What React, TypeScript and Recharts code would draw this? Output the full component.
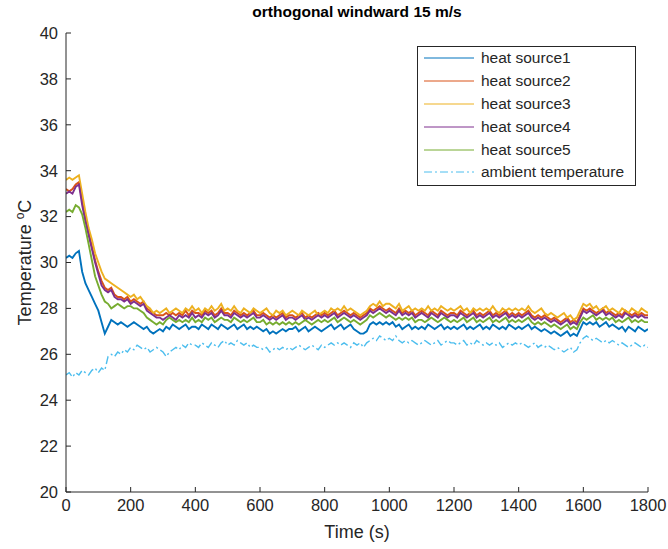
import React from "react";
import { LineChart, Line, XAxis, YAxis, Legend } from "recharts";

const TIME_STEP_S = 10;

const chartTitle = "orthogonal windward 15 m/s";
const xTicks = [0, 200, 400, 600, 800, 1000, 1200, 1400, 1600, 1800];
const yTicks = [20, 22, 24, 26, 28, 30, 32, 34, 36, 38, 40];

const heatSource1 = [
  30.2, 30.3, 30.2, 30.4, 30.5, 29.6, 29.1, 28.8, 28.5, 28.2,
  27.9, 27.4, 26.9, 27.2, 27.5, 27.4, 27.3, 27.4, 27.3, 27.2,
  27.3, 27.4, 27.3, 27.2, 27.1, 27.2, 27.0, 26.9, 27.0, 27.1,
  27.0, 27.2, 27.1, 27.3, 27.2, 27.1, 27.2, 27.3, 27.1, 27.2,
  27.2, 27.1, 27.3, 27.2, 27.1, 27.3, 27.2, 27.1, 27.3, 27.2,
  27.1, 27.2, 27.3, 27.1, 27.2, 27.3, 27.1, 27.2, 27.1, 27.2,
  27.1, 27.0, 27.1, 26.9, 27.0, 26.9, 27.0, 27.1, 27.0, 27.1,
  27.1, 27.2, 27.0, 27.1, 27.2, 27.0, 27.1, 27.2, 27.1, 27.0,
  27.1, 27.2, 27.3, 27.1, 27.2, 27.3, 27.1, 27.2, 27.3, 27.1,
  27.0, 26.9, 26.9, 27.0, 27.3, 27.4, 27.3, 27.4, 27.3, 27.4,
  27.3, 27.4, 27.2, 27.3, 27.1, 27.2, 27.3, 27.1, 27.2, 27.1,
  27.2, 27.1, 27.3, 27.2, 27.1, 27.2, 27.3, 27.1, 27.2, 27.1,
  27.2, 27.1, 27.2, 27.3, 27.1, 27.2, 27.1, 27.2, 27.3, 27.1,
  27.2, 27.1, 27.3, 27.2, 27.1, 27.2, 27.1, 27.3, 27.2, 27.1,
  27.2, 27.1, 27.2, 27.3, 27.1, 27.2, 27.1, 27.0, 27.1, 27.0,
  26.9, 27.0, 26.9, 26.8, 26.9, 27.0, 26.8, 26.9, 26.8, 27.1,
  27.4, 27.3, 27.4, 27.3, 27.4, 27.2, 27.3, 27.4, 27.2, 27.3,
  27.2, 27.1, 27.2, 27.0, 27.2, 27.1, 27.0, 27.2, 27.1, 27.0,
  27.1,
];

const heatSource2 = [
  33.2, 33.1, 33.2, 33.4, 33.5, 32.7, 31.9, 31.3, 30.7, 30.1,
  29.6, 29.2, 28.9, 28.8, 28.9, 28.6, 28.5, 28.5, 28.4, 28.5,
  28.3, 28.4, 28.3, 28.2, 28.3, 28.0, 27.9, 27.8, 27.7, 27.7,
  27.7, 27.8, 27.7, 27.8, 27.7, 27.8, 27.7, 27.9, 27.7, 27.9,
  27.8, 27.8, 27.7, 27.9, 27.8, 27.9, 27.7, 27.8, 28.0, 27.8,
  27.8, 27.7, 27.9, 27.8, 27.7, 27.8, 27.7, 27.8, 27.9, 27.7,
  27.7, 27.8, 27.7, 27.6, 27.7, 27.6, 27.7, 27.8, 27.6, 27.7,
  27.7, 27.6, 27.7, 27.8, 27.6, 27.7, 27.6, 27.7, 27.8, 27.7,
  27.8, 27.7, 27.8, 27.9, 27.7, 27.8, 27.9, 27.8, 27.7, 27.8,
  27.7, 27.6, 27.7, 27.8, 28.0, 27.9, 28.0, 28.1, 28.0, 27.9,
  28.0, 27.9, 27.8, 28.0, 27.8, 27.9, 27.8, 27.9, 27.7, 27.8,
  27.9, 27.8, 27.7, 27.9, 27.8, 27.7, 27.9, 27.8, 27.7, 27.8,
  27.8, 27.7, 27.9, 27.8, 27.7, 27.8, 27.9, 27.7, 27.8, 27.7,
  27.8, 27.9, 27.7, 27.8, 27.7, 27.8, 27.9, 27.7, 27.8, 27.7,
  27.8, 27.7, 27.8, 27.9, 27.7, 27.6, 27.7, 27.6, 27.7, 27.6,
  27.5, 27.6, 27.5, 27.4, 27.5, 27.6, 27.4, 27.5, 27.4, 27.7,
  28.0, 27.9, 28.0, 27.9, 27.8, 27.9, 28.0, 27.8, 27.9, 27.8,
  27.7, 27.8, 27.7, 27.9, 27.8, 27.7, 27.8, 27.7, 27.8, 27.7,
  27.7,
];

const heatSource3 = [
  33.6, 33.7, 33.6, 33.7, 33.8, 33.0, 32.2, 31.5, 31.0, 30.4,
  30.0, 29.6, 29.3, 29.2, 29.1, 29.0, 28.9, 28.8, 28.7, 28.6,
  28.5, 28.6, 28.4, 28.5, 28.3, 28.1, 28.0, 27.8, 27.9, 27.8,
  27.9, 28.0, 27.8, 27.9, 28.0, 27.9, 27.8, 28.0, 27.9, 28.1,
  27.9, 28.0, 27.8, 28.0, 27.9, 28.1, 27.9, 28.0, 28.2, 27.9,
  28.0, 27.9, 28.1, 27.9, 27.8, 28.0, 27.9, 27.8, 28.0, 27.9,
  27.8, 27.9, 28.0, 27.8, 27.7, 27.9, 27.8, 27.9, 27.7, 27.8,
  27.9, 27.8, 27.7, 27.9, 27.8, 27.7, 27.8, 27.9, 27.7, 27.8,
  27.9, 27.8, 28.0, 27.9, 28.0, 27.9, 28.1, 27.9, 28.0, 27.9,
  27.8, 27.7, 27.8, 27.9, 28.1, 28.2, 28.1, 28.3, 28.1, 28.2,
  28.2, 28.1, 28.0, 28.2, 27.9, 28.0, 28.1, 27.9, 28.0, 27.9,
  28.0, 27.9, 28.1, 27.9, 28.0, 27.9, 28.1, 28.0, 27.9, 28.0,
  27.9, 28.0, 28.1, 27.9, 28.0, 27.8, 28.0, 27.9, 28.0, 27.9,
  28.0, 27.9, 28.1, 27.9, 27.8, 28.0, 27.9, 28.0, 27.9, 28.0,
  27.9, 28.0, 27.9, 28.1, 27.9, 27.8, 27.9, 28.0, 27.8, 27.7,
  27.8, 27.7, 27.6, 27.7, 27.8, 27.6, 27.7, 27.5, 27.6, 27.9,
  28.2, 28.1, 28.2, 28.0, 28.1, 27.9, 28.0, 28.1, 27.9, 28.0,
  27.9, 27.8, 28.0, 27.9, 27.8, 28.0, 27.9, 27.8, 28.0, 27.9,
  27.8,
];

const heatSource4 = [
  33.0, 33.1, 33.0, 33.3, 33.4, 32.5, 31.8, 31.2, 30.6, 30.0,
  29.5, 29.0, 28.8, 28.7, 28.8, 28.5, 28.4, 28.4, 28.3, 28.4,
  28.2, 28.3, 28.2, 28.1, 28.2, 27.9, 27.8, 27.7, 27.6, 27.6,
  27.5, 27.6, 27.7, 27.6, 27.5, 27.7, 27.6, 27.7, 27.6, 27.8,
  27.6, 27.7, 27.6, 27.8, 27.7, 27.8, 27.6, 27.7, 27.9, 27.7,
  27.7, 27.6, 27.8, 27.7, 27.6, 27.7, 27.6, 27.7, 27.8, 27.6,
  27.6, 27.7, 27.6, 27.5, 27.6, 27.5, 27.6, 27.7, 27.5, 27.6,
  27.6, 27.5, 27.6, 27.7, 27.5, 27.6, 27.5, 27.6, 27.7, 27.6,
  27.7, 27.6, 27.7, 27.8, 27.6, 27.7, 27.8, 27.7, 27.6, 27.7,
  27.6, 27.5, 27.6, 27.7, 27.9, 27.8, 27.9, 28.0, 27.9, 27.8,
  27.9, 27.8, 27.7, 27.9, 27.7, 27.8, 27.7, 27.8, 27.6, 27.7,
  27.8, 27.7, 27.6, 27.8, 27.7, 27.6, 27.8, 27.7, 27.6, 27.7,
  27.7, 27.6, 27.8, 27.7, 27.6, 27.7, 27.8, 27.6, 27.7, 27.6,
  27.7, 27.8, 27.6, 27.7, 27.6, 27.7, 27.8, 27.6, 27.7, 27.6,
  27.7, 27.6, 27.7, 27.8, 27.6, 27.5, 27.6, 27.5, 27.6, 27.5,
  27.4, 27.5, 27.4, 27.3, 27.4, 27.5, 27.3, 27.4, 27.3, 27.6,
  27.9, 27.8, 27.9, 27.8, 27.7, 27.8, 27.9, 27.7, 27.8, 27.7,
  27.6, 27.7, 27.6, 27.8, 27.7, 27.6, 27.7, 27.6, 27.7, 27.6,
  27.6,
];

const heatSource5 = [
  32.2, 32.3, 32.2, 32.5, 32.4, 32.1, 31.5, 30.8, 30.1, 29.4,
  29.0, 28.6, 28.3, 28.2, 28.0, 28.1, 28.2, 28.1, 28.0, 28.1,
  28.1, 28.0, 28.0, 27.9, 27.8, 27.6, 27.5, 27.4, 27.3, 27.4,
  27.3, 27.5, 27.6, 27.5, 27.4, 27.5, 27.4, 27.5, 27.4, 27.6,
  27.4, 27.5, 27.4, 27.6, 27.5, 27.6, 27.4, 27.5, 27.6, 27.5,
  27.5, 27.4, 27.6, 27.5, 27.4, 27.5, 27.4, 27.5, 27.6, 27.4,
  27.4, 27.5, 27.3, 27.4, 27.3, 27.4, 27.3, 27.4, 27.3, 27.4,
  27.3, 27.4, 27.3, 27.4, 27.5, 27.4, 27.3, 27.4, 27.5, 27.4,
  27.5, 27.4, 27.5, 27.6, 27.4, 27.5, 27.6, 27.5, 27.4, 27.5,
  27.4, 27.3, 27.4, 27.5, 27.7, 27.6, 27.7, 27.8, 27.7, 27.6,
  27.7, 27.6, 27.5, 27.6, 27.5, 27.6, 27.5, 27.6, 27.4, 27.5,
  27.5, 27.4, 27.5, 27.6, 27.5, 27.4, 27.5, 27.6, 27.5, 27.4,
  27.5, 27.4, 27.5, 27.6, 27.4, 27.5, 27.6, 27.4, 27.5, 27.4,
  27.5, 27.6, 27.4, 27.5, 27.4, 27.5, 27.6, 27.4, 27.5, 27.4,
  27.5, 27.4, 27.5, 27.6, 27.4, 27.3, 27.4, 27.3, 27.4, 27.3,
  27.2, 27.3, 27.2, 27.1, 27.2, 27.3, 27.1, 27.2, 27.1, 27.4,
  27.6, 27.5, 27.6, 27.7, 27.5, 27.6, 27.5, 27.6, 27.5, 27.6,
  27.4, 27.5, 27.4, 27.5, 27.6, 27.4, 27.5, 27.4, 27.5, 27.4,
  27.4,
];

const ambientTemperature = [
  25.1, 25.2, 25.0, 25.2, 25.1, 25.3, 25.2, 25.1, 25.3, 25.4,
  25.2, 25.4, 25.3, 25.9, 26.0, 25.9, 26.1, 26.0, 26.2, 26.1,
  26.3, 26.2, 26.4, 26.3, 26.2, 26.3, 26.1, 26.2, 26.3, 26.2,
  26.1, 25.9, 26.1, 26.2, 26.3, 26.2, 26.4, 26.3, 26.5, 26.4,
  26.4, 26.3, 26.5, 26.4, 26.3, 26.5, 26.4, 26.3, 26.5, 26.6,
  26.4, 26.5, 26.4, 26.6, 26.5, 26.4, 26.5, 26.3, 26.4, 26.3,
  26.3, 26.2, 26.3, 26.1, 26.2, 26.3, 26.2, 26.3, 26.2, 26.3,
  26.2, 26.3, 26.4, 26.3, 26.2, 26.3, 26.4, 26.3, 26.2, 26.4,
  26.3, 26.4, 26.5, 26.4, 26.5, 26.4, 26.5, 26.4, 26.3, 26.5,
  26.4, 26.5, 26.3, 26.5, 26.6, 26.7, 26.6, 26.8, 26.7, 26.6,
  26.7, 26.6, 26.8, 26.6, 26.5, 26.6, 26.5, 26.6, 26.5, 26.4,
  26.5, 26.6, 26.5, 26.4, 26.5, 26.6, 26.4, 26.5, 26.6, 26.5,
  26.5, 26.4, 26.5, 26.6, 26.4, 26.5, 26.4, 26.6, 26.5, 26.4,
  26.5, 26.4, 26.5, 26.4, 26.5, 26.3, 26.4, 26.5, 26.4, 26.5,
  26.4, 26.5, 26.4, 26.3, 26.4, 26.5, 26.3, 26.4, 26.3, 26.4,
  26.3, 26.2, 26.3, 26.2, 26.1, 26.2, 26.3, 26.1, 26.2, 26.5,
  26.7, 26.8, 26.7, 26.6, 26.7, 26.6, 26.5, 26.6, 26.5, 26.6,
  26.5, 26.4, 26.5, 26.4, 26.3, 26.4, 26.5, 26.4, 26.3, 26.4,
  26.3,
];

const seriesNames = [
  "heat source1",
  "heat source2",
  "heat source3",
  "heat source4",
  "heat source5",
  "ambient temperature",
];
const seriesKeys = ["s1", "s2", "s3", "s4", "s5", "amb"];
const seriesValues = [heatSource1, heatSource2, heatSource3, heatSource4, heatSource5, ambientTemperature];
const seriesColors = ["#0072BD", "#D95319", "#EDB120", "#7E2F8E", "#77AC30", "#4DBEEE"];
const seriesDash = [undefined, undefined, undefined, undefined, undefined, "8 3 2 3"];

const rows = heatSource1.map((_, i) => {
  const r: Record<string, number> = { t: i * TIME_STEP_S };
  seriesKeys.forEach((k, j) => {
    r[k] = seriesValues[j][i];
  });
  return r;
});

const FONT = '"Liberation Sans", Arial, Helvetica, sans-serif';
const TEXT = "#262626";
const AXIS = "#262626";

const LegendBox = () => (
  <div
    style={{
      border: `1px solid ${AXIS}`,
      background: "#fff",
      padding: "0px 6px 1px 6px",
      fontFamily: FONT,
      fontSize: 15.5,
      color: TEXT,
      width: 205,
      boxSizing: "content-box",
    }}
  >
    {seriesNames.map((name, i) => (
      <div key={name} style={{ display: "flex", alignItems: "center", height: 22.8 }}>
        <svg width={50} height={10} style={{ marginRight: 7, flex: "none" }}>
          <line
            x1={0}
            y1={5}
            x2={50}
            y2={5}
            stroke={seriesColors[i]}
            strokeWidth={1}
            strokeDasharray={seriesDash[i]}
          />
        </svg>
        <span style={{ whiteSpace: "nowrap" }}>{name}</span>
      </div>
    ))}
  </div>
);

const YLabel = (props: any) => {
  const vb = props.viewBox || { x: 0, y: 33, width: 66, height: 459 };
  const cx = vb.x + 31;
  const cy = vb.y + vb.height / 2;
  return (
    <text
      x={cx}
      y={cy}
      transform={`rotate(-90 ${cx} ${cy})`}
      textAnchor="middle"
      fontFamily={FONT}
      fontSize={18}
      fill={TEXT}
    >
      Temperature <tspan dy={-7} fontSize={12}>o</tspan>
      <tspan dy={7}>C</tspan>
    </text>
  );
};

export default function App() {
  const tickStyle = { fontFamily: FONT, fontSize: 16.5, fill: TEXT };
  return (
    <div style={{ position: "absolute", left: 0, top: 0, width: 668, height: 549, background: "#fff" }}>
      <div
        style={{
          position: "absolute",
          left: 66,
          top: 2,
          width: 582,
          textAlign: "center",
          fontFamily: FONT,
          fontSize: 15.5,
          fontWeight: "bold",
          color: "#000",
          lineHeight: "20px",
          zIndex: 2,
        }}
      >
        {chartTitle}
      </div>
      <LineChart
        width={668}
        height={549}
        data={rows}
        margin={{ top: 33, right: 20, bottom: 0, left: 0 }}
      >
        <XAxis
          xAxisId="top"
          orientation="top"
          dataKey="t"
          type="number"
          domain={[0, 1800]}
          ticks={xTicks}
          allowDataOverflow
          height={0}
          tick={false}
          tickSize={-5}
          axisLine={{ stroke: AXIS }}
          tickLine={{ stroke: AXIS }}
        />
        <XAxis
          dataKey="t"
          type="number"
          domain={[0, 1800]}
          ticks={xTicks}
          allowDataOverflow
          height={57}
          tickSize={-5}
          tickMargin={12}
          tick={tickStyle}
          axisLine={{ stroke: AXIS }}
          tickLine={{ stroke: AXIS }}
          label={{
            value: "Time (s)",
            position: "insideBottom",
            offset: 11,
            style: { fontFamily: FONT, fontSize: 18, fill: TEXT },
          }}
        />
        <YAxis
          yAxisId="left"
          type="number"
          domain={[20, 40]}
          ticks={yTicks}
          allowDataOverflow
          width={66}
          tickSize={-5}
          tickMargin={13}
          tick={tickStyle}
          axisLine={{ stroke: AXIS }}
          tickLine={{ stroke: AXIS }}
          label={<YLabel />}
        />
        <YAxis
          yAxisId="right"
          orientation="right"
          type="number"
          domain={[20, 40]}
          ticks={yTicks}
          allowDataOverflow
          width={0}
          tick={false}
          tickSize={-5}
          axisLine={{ stroke: AXIS }}
          tickLine={{ stroke: AXIS }}
        />
        {seriesKeys.map((k, i) => (
          <Line
            key={k}
            yAxisId="left"
            type="linear"
            dataKey={k}
            name={seriesNames[i]}
            stroke={seriesColors[i]}
            strokeWidth={i === 5 ? 1.4 : 1.9}
            strokeDasharray={seriesDash[i]}
            dot={false}
            activeDot={false}
            isAnimationActive={false}
          />
        ))}
        <Legend
          layout="vertical"
          align="center"
          verticalAlign="middle"
          content={() => <LegendBox />}
          wrapperStyle={{ position: "absolute", left: 417, top: 46, width: "auto", height: "auto" }}
        />
      </LineChart>
    </div>
  );
}
